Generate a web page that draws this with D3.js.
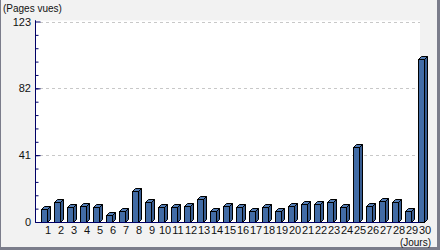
<!DOCTYPE html>
<html>
<head>
<meta charset="utf-8">
<script src="https://cdn.jsdelivr.net/npm/d3@7"></script>
<style>
  body { margin: 0; background: #fff; }
  svg text { font-family: "Liberation Sans", sans-serif; fill: #111; }
</style>
</head>
<body>
<div id="chart"></div>
<script>
// Pages vues par jour
var jours = d3.range(1, 31).map(String);
var pagesVues = [8, 12, 9, 10, 9, 4, 7, 19, 12, 9, 9, 10, 14, 7, 10, 9, 7, 9, 7, 10,
                 11, 11, 12, 9, 46, 10, 13, 12, 7, 100];
var ticksMajeurs = [0, 41, 82, 123];
var ticksMineurs = d3.range(0, 15).map(function(i) { return +(i * 8.2).toFixed(1); });

var W = 440, H = 250;
var plot = {left: 36, right: 420, top: 20.5, bottom: 222};
var depth = 3, barW = 6;

var svg = d3.select("#chart").append("svg")
    .attr("width", W)
    .attr("height", H);

// fond + bordure "ombre"
svg.append("rect").attr("width", W).attr("height", H).attr("fill", "#f2f2f2");
svg.append("rect").attr("x", 0).attr("y", 0).attr("width", 1).attr("height", H).attr("fill", "#7b7d8b");
svg.append("rect").attr("x", W - 3).attr("y", 0).attr("width", 3).attr("height", H).attr("fill", "#7b7d8b");
svg.append("rect").attr("x", 0).attr("y", H - 3).attr("width", W).attr("height", 3).attr("fill", "#7b7d8b");

// zone de tracé
svg.append("rect")
    .attr("x", plot.left).attr("y", plot.top)
    .attr("width", plot.right - plot.left).attr("height", plot.bottom - plot.top)
    .attr("fill", "#fff");

var x = d3.scaleBand()
    .domain(jours)
    .range([40, 40 + 13 * jours.length]);

var y = d3.scaleLinear()
    .domain([0, 123])
    .range([plot.bottom, 21.5]);

// grille
svg.append("g")
  .selectAll("line")
  .data(ticksMajeurs.filter(function(d) { return d > 0; }))
  .enter().append("line")
    .attr("x1", 40).attr("x2", plot.right)
    .attr("y1", function(d) { return Math.round(y(d)) + 0.5; })
    .attr("y2", function(d) { return Math.round(y(d)) + 0.5; })
    .attr("stroke", "#c8c8c8")
    .attr("stroke-dasharray", "3,3");

// barres 3D
var bars = svg.append("g").selectAll("g.bar")
    .data(pagesVues)
    .enter().append("g")
    .attr("class", "bar");

function barX(d, i) { return x(jours[i]) + 1.5; }
function barTop(d) { return Math.round(y(d)) + 0.5; }
var base = plot.bottom + 0.5;

bars.append("path")  // côté
    .attr("d", function(d, i) {
      var a = barX(d, i) + barW, t = barTop(d);
      return "M" + a + "," + t + "L" + (a + depth) + "," + (t - depth) +
             "L" + (a + depth) + "," + (base - depth) + "L" + a + "," + base + "Z";
    })
    .attr("fill", "#375c91").attr("stroke", "#000").attr("stroke-width", 1);

bars.append("path")  // dessus
    .attr("d", function(d, i) {
      var a = barX(d, i), t = barTop(d);
      return "M" + a + "," + t + "L" + (a + depth) + "," + (t - depth) +
             "L" + (a + barW + depth) + "," + (t - depth) + "L" + (a + barW) + "," + t + "Z";
    })
    .attr("fill", "#527cb4").attr("stroke", "#000").attr("stroke-width", 1);

bars.append("rect")  // face
    .attr("x", barX)
    .attr("y", barTop)
    .attr("width", barW)
    .attr("height", function(d) { return base - barTop(d); })
    .attr("fill", "#426ca6").attr("stroke", "#000").attr("stroke-width", 1);

// axe y : ticks vers l'intérieur
var yMin = svg.append("g")
    .attr("transform", "translate(35.5,0)")
    .call(d3.axisRight(y).tickValues(ticksMineurs).tickSize(3).tickFormat(""));
var yMaj = svg.append("g")
    .attr("transform", "translate(35.5,0)")
    .call(d3.axisRight(y).tickValues(ticksMajeurs).tickSize(5).tickFormat(""));
[yMin, yMaj].forEach(function(g) {
  g.selectAll("line").attr("stroke", "#000066");
  g.select(".domain").attr("stroke", "#000066").attr("d", "M0," + plot.top + "V" + (plot.bottom + 0.5));
});

var yLab = svg.append("g")
    .attr("transform", "translate(35,0)")
    .call(d3.axisLeft(y).tickValues(ticksMajeurs).tickSize(0).tickPadding(4));
yLab.select(".domain").remove();
yLab.selectAll("text").attr("font-size", 11).attr("font-family", null).attr("fill", "#111");

// axe x
var xAx = svg.append("g")
    .attr("transform", "translate(0," + plot.bottom + ")")
    .call(d3.axisBottom(x).tickSize(0).tickPadding(4));
xAx.select(".domain").attr("stroke", "#000066").attr("d", "M36,0.5H" + plot.right);
xAx.selectAll("text")
    .attr("dx", 1.5)
    .attr("font-size", 11).attr("font-family", null).attr("fill", "#111");

// titres
svg.append("text").attr("x", 3).attr("y", 12).attr("font-size", 10).text("(Pages vues)");
svg.append("text").attr("x", 431).attr("y", 246).attr("font-size", 10)
    .attr("text-anchor", "end").text("(Jours)");
</script>
</body>
</html>
